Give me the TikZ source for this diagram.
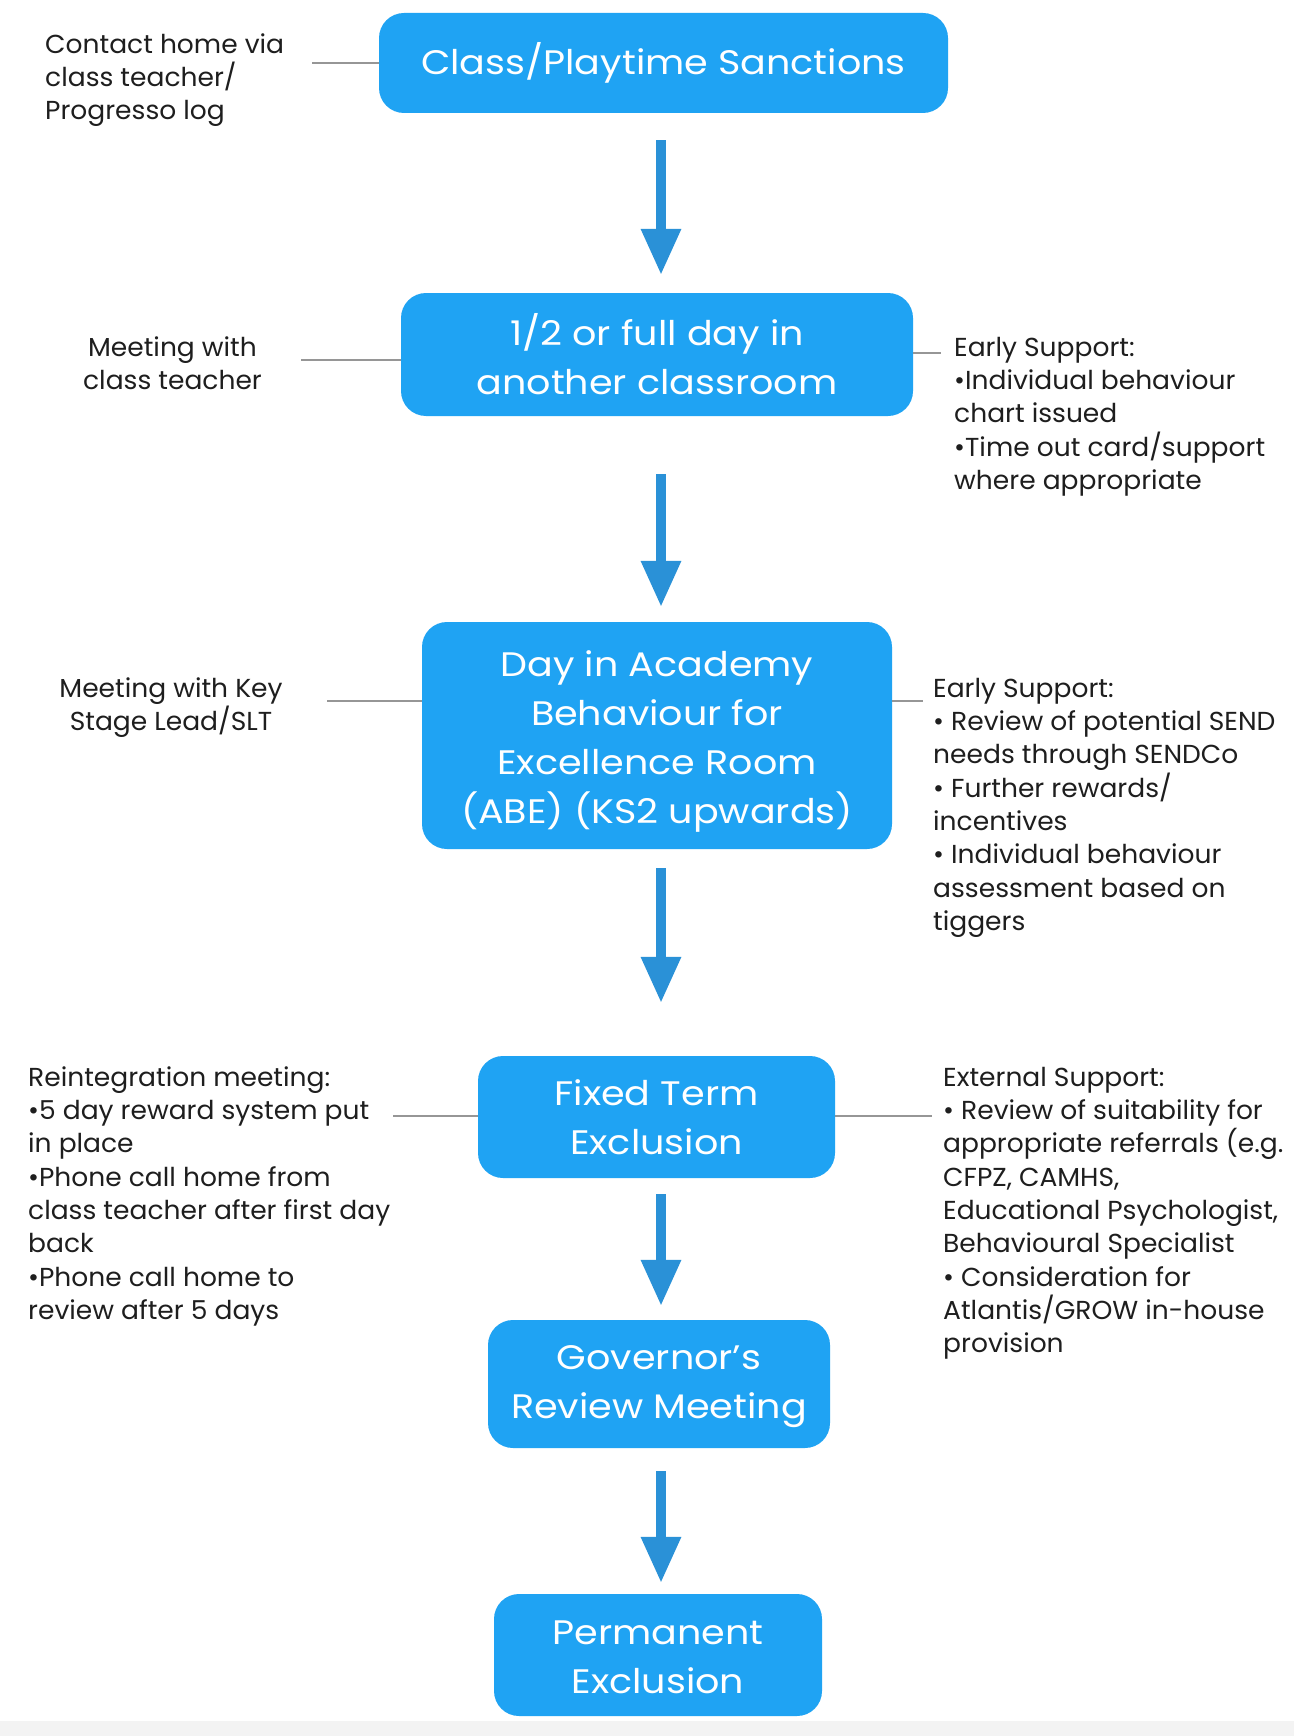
\documentclass[tikz,border=0pt]{standalone}
\usepackage{fontspec}
\setmainfont{Poppins}
\newfontfamily\boxfont[FakeStretch=1.12]{Poppins}
\newfontfamily\notefont[FakeStretch=1.02]{Poppins}
\usetikzlibrary{arrows.meta}
\definecolor{boxblue}{RGB}{31,163,243}
\definecolor{arrowblue}{RGB}{42,145,215}
\definecolor{txtcol}{RGB}{30,30,30}
\definecolor{conngray}{RGB}{150,150,150}
\definecolor{bandgray}{RGB}{243,243,243}
\newcommand\mystrut{\rule{0pt}{20pt}}
\begin{document}
\begin{tikzpicture}[x=1pt,y=-1pt,
  box/.style={fill=boxblue, rounded corners=25pt, text=white, align=center, inner sep=0pt, font=\boxfont\fontsize{34}{49}\selectfont},
  note/.style={inner sep=0pt, text=txtcol, font=\notefont\fontsize{26}{33.3}\selectfont},
  conn/.style={draw=conngray, line width=1.5pt},
  flow/.style={draw=arrowblue, line width=9.5pt, -{Triangle[width=38pt,length=46pt]}},
]
\useasboundingbox (0,0) rectangle (1294,1736);
\fill[white] (0,0) rectangle (1294,1736);
\fill[bandgray] (0,1721) rectangle (1294,1736);
\coordinate (ax) at (661,0);

% boxes
\node[box, minimum width=569pt, minimum height=100pt] (b1) at (663.5,63) {\rule{0pt}{29pt}Class/Playtime Sanctions};
\node[box, minimum width=512pt, minimum height=123pt] (b2) at (657,354.5) {1/2 or full day in\\another classroom};
\node[box, minimum width=470pt, minimum height=227pt] (b3) at (657,735.5) {\rule{0pt}{37pt}Day in Academy\\Behaviour for\\Excellence Room\\(ABE) (KS2 upwards)};
\node[box, minimum width=357pt, minimum height=122pt] (b4) at (656.5,1117) {Fixed Term\\Exclusion};
\node[box, minimum width=342pt, minimum height=128pt] (b5) at (659,1384) {\rule{0pt}{29pt}Governor’s\\Review Meeting};
\node[box, minimum width=328pt, minimum height=122pt] (b6) at (658,1655) {\rule{0pt}{29pt}Permanent\\Exclusion};

% arrows
\draw[flow, shorten <=27pt, shorten >=18pt] (b1.south -| ax) -- (b2.north -| ax);
\draw[flow, shorten <=58pt, shorten >=15pt] (b2.south -| ax) -- (b3.north -| ax);
\draw[flow, shorten <=19pt, shorten >=53pt] (b3.south -| ax) -- (b4.north -| ax);
\draw[flow, shorten <=16pt, shorten >=14pt] (b4.south -| ax) -- (b5.north -| ax);
\draw[flow, shorten <=23pt, shorten >=11pt] (b5.south -| ax) -- (b6.north -| ax);

% side notes
\node[note, anchor=north west, align=left] (t1) at (45,33) {\mystrut Contact home via\\class teacher/\\Progresso log};
\node[note, anchor=north, align=center] (t2l) at (172.5,336) {\mystrut Meeting with\\class teacher};
\node[note, anchor=north west, align=left] (t2r) at (954,336) {\mystrut Early Support:\\\textbullet Individual behaviour\\chart issued\\\textbullet Time out card/support\\where appropriate};
\node[note, anchor=north, align=center] (t3l) at (171,677) {\mystrut Meeting with Key\\Stage Lead/SLT};
\node[note, anchor=north west, align=left] (t3r) at (933,677) {\mystrut Early Support:\\\textbullet{} Review of potential SEND\\needs through SENDCo\\\textbullet{} Further rewards/\\incentives\\\textbullet{} Individual behaviour\\assessment based on\\tiggers};
\node[note, anchor=north west, align=left] (t4l) at (28,1066) {\mystrut Reintegration meeting:\\\textbullet 5 day reward system put\\in place\\\textbullet Phone call home from\\class teacher after first day\\back\\\textbullet Phone call home to\\review after 5 days};
\node[note, anchor=north west, align=left] (t4r) at (943,1066) {\mystrut External Support:\\\textbullet{} Review of suitability for\\appropriate referrals (e.g.\\CFPZ, CAMHS,\\Educational Psychologist,\\Behavioural Specialist\\\textbullet{} Consideration for\\Atlantis/GROW in-house\\provision};

% connector lines
\draw[conn] (b1.west) -- ++(-67,0) coordinate (c1);
\draw[conn] ([yshift=-5.5pt]b2.west) -- ++(-100,0) coordinate (c2l);
\draw[conn] ([yshift=1.5pt]b2.east) -- ++(28,0) coordinate (c2r);
\draw[conn] ([yshift=34.5pt]b3.west) -- ++(-95,0) coordinate (c3l);
\draw[conn] ([yshift=34.5pt]b3.east) -- ++(31,0) coordinate (c3r);
\draw[conn] ([yshift=1pt]b4.west) -- ++(-85,0) coordinate (c4l);
\draw[conn] ([yshift=1pt]b4.east) -- ++(97,0) coordinate (c4r);
\end{tikzpicture}
\end{document}
